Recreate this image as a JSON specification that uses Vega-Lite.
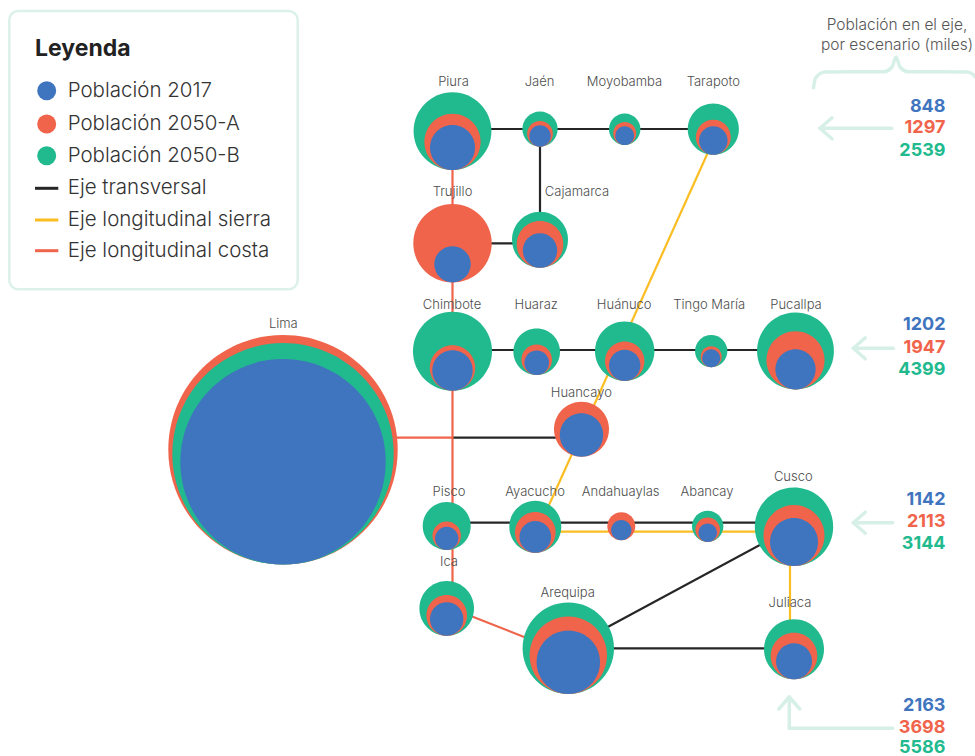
{
  "$schema": "https://vega.github.io/schema/vega-lite/v6.json",
  "width": 975,
  "height": 756,
  "padding": 0,
  "autosize": {"type": "none"},
  "background": "white",
  "config": {"view": {"stroke": null}, "font": "Inter"},
  "datasets": {
    "nodos": [
      {"ciudad": "Piura", "x": 452.5, "y": 170, "lx": 453.5, "ly": 81.7, "Población 2017": 471, "Población 2050-A": 735, "Población 2050-B": 1410},
      {"ciudad": "Jaén", "x": 540, "y": 146.7, "lx": 539.5, "ly": 81.7, "Población 2017": 106, "Población 2050-A": 155, "Población 2050-B": 290},
      {"ciudad": "Moyobamba", "x": 624.7, "y": 145, "lx": 624.5, "ly": 81.7, "Población 2017": 81, "Población 2050-A": 123, "Población 2050-B": 230},
      {"ciudad": "Tarapoto", "x": 713.3, "y": 154.7, "lx": 713.3, "ly": 81.7, "Población 2017": 190, "Población 2050-A": 284, "Población 2050-B": 609},
      {"ciudad": "Trujillo", "x": 452.5, "y": 282.5, "lx": 452.5, "ly": 191.7, "Población 2017": 308, "Población 2050-A": 1431, "Población 2050-B": null},
      {"ciudad": "Cajamarca", "x": 540, "y": 267.7, "lx": 577, "ly": 191.7, "Población 2017": 275, "Población 2050-A": 505, "Población 2050-B": 730},
      {"ciudad": "Chimbote", "x": 452.5, "y": 390.7, "lx": 452, "ly": 304.7, "Población 2017": 380, "Población 2050-A": 480, "Población 2050-B": 1455},
      {"ciudad": "Huaraz", "x": 536.7, "y": 375, "lx": 536.2, "ly": 304.7, "Población 2017": 141, "Población 2050-A": 218, "Población 2050-B": 506},
      {"ciudad": "Huánuco", "x": 624.7, "y": 381, "lx": 624.2, "ly": 304.7, "Población 2017": 229, "Población 2050-A": 361, "Población 2050-B": 821},
      {"ciudad": "Tingo María", "x": 711.2, "y": 367.3, "lx": 709.2, "ly": 304.7, "Población 2017": 75, "Población 2050-A": 102, "Población 2050-B": 244},
      {"ciudad": "Pucallpa", "x": 795.5, "y": 389.4, "lx": 796, "ly": 304.7, "Población 2017": 377, "Población 2050-A": 786, "Población 2050-B": 1373},
      {"ciudad": "Lima", "x": 283, "y": 564.5, "lx": 283.3, "ly": 324, "Población 2017": 9821, "Población 2050-A": 12250, "Población 2050-B": 11410},
      {"ciudad": "Huancayo", "x": 581.5, "y": 456.7, "lx": 581.3, "ly": 392.7, "Población 2017": 438, "Población 2050-A": 704, "Población 2050-B": null},
      {"ciudad": "Pisco", "x": 446.7, "y": 550, "lx": 449, "ly": 491.7, "Población 2017": 127, "Población 2050-A": 188, "Población 2050-B": 536},
      {"ciudad": "Ayacucho", "x": 535.3, "y": 552.7, "lx": 535, "ly": 491.7, "Población 2017": 233, "Población 2050-A": 384, "Población 2050-B": 629},
      {"ciudad": "Andahuaylas", "x": 621.3, "y": 540.3, "lx": 620.7, "ly": 491.7, "Población 2017": 97, "Población 2050-A": 182, "Población 2050-B": null},
      {"ciudad": "Abancay", "x": 707.7, "y": 542, "lx": 707, "ly": 491.7, "Población 2017": 80, "Población 2050-A": 141, "Población 2050-B": 229},
      {"ciudad": "Cusco", "x": 794, "y": 566, "lx": 793.3, "ly": 477.3, "Población 2017": 536, "Población 2050-A": 866, "Población 2050-B": 1431},
      {"ciudad": "Ica", "x": 446.7, "y": 635.7, "lx": 449, "ly": 561.7, "Población 2017": 260, "Población 2050-A": 384, "Población 2050-B": 694},
      {"ciudad": "Arequipa", "x": 568.3, "y": 694, "lx": 567.7, "ly": 592.7, "Población 2017": 936, "Población 2050-A": 1394, "Población 2050-B": 1944},
      {"ciudad": "Juliaca", "x": 794, "y": 679.3, "lx": 790, "ly": 603.3, "Población 2017": 302, "Población 2050-A": 505, "Población 2050-B": 838}
    ],
    "ejes": [
      {"tipo": "Eje transversal", "x": 452.5, "y": 129, "x2": 713.3, "y2": 129},
      {"tipo": "Eje transversal", "x": 452.5, "y": 243.3, "x2": 540, "y2": 243.3},
      {"tipo": "Eje transversal", "x": 540, "y": 129, "x2": 540, "y2": 240},
      {"tipo": "Eje transversal", "x": 452.5, "y": 350, "x2": 795.5, "y2": 350},
      {"tipo": "Eje transversal", "x": 452.5, "y": 437.7, "x2": 581.5, "y2": 437.7},
      {"tipo": "Eje transversal", "x": 446.7, "y": 522.7, "x2": 794, "y2": 522.7},
      {"tipo": "Eje transversal", "x": 568.3, "y": 648.3, "x2": 794, "y2": 526.7},
      {"tipo": "Eje transversal", "x": 568.3, "y": 648.3, "x2": 794, "y2": 648.3},
      {"tipo": "Eje longitudinal costa", "x": 452.5, "y": 129, "x2": 452.5, "y2": 608.3},
      {"tipo": "Eje longitudinal costa", "x": 283, "y": 437.7, "x2": 452.5, "y2": 437.7},
      {"tipo": "Eje longitudinal costa", "x": 446.7, "y": 606.4, "x2": 568.3, "y2": 654.5},
      {"tipo": "Eje longitudinal sierra", "x": 718.5, "y": 129, "x2": 537, "y2": 531.7},
      {"tipo": "Eje longitudinal sierra", "x": 535.3, "y": 531.7, "x2": 794, "y2": 531.7},
      {"tipo": "Eje longitudinal sierra", "x": 790, "y": 526.7, "x2": 790, "y2": 649}
    ],
    "leyenda": [
      {"serie": "Población 2017", "x": 46.7, "y": 90.7, "tx": 67.7, "forma": "punto"},
      {"serie": "Población 2050-A", "x": 46.7, "y": 124, "tx": 67.7, "forma": "punto"},
      {"serie": "Población 2050-B", "x": 46.7, "y": 155.7, "tx": 67.7, "forma": "punto"},
      {"serie": "Eje transversal", "x": 35, "x2": 58.3, "y": 188.3, "tx": 67.7, "forma": "linea"},
      {"serie": "Eje longitudinal sierra", "x": 35, "x2": 58.3, "y": 220, "tx": 67.7, "forma": "linea"},
      {"serie": "Eje longitudinal costa", "x": 35, "x2": 58.3, "y": 250.7, "tx": 67.7, "forma": "linea"}
    ],
    "totales": [
      {"t": "848", "serie": "Población 2017", "x": 945.5, "y": 106.7},
      {"t": "1297", "serie": "Población 2050-A", "x": 945.5, "y": 128.3},
      {"t": "2539", "serie": "Población 2050-B", "x": 945.5, "y": 150.7},
      {"t": "1202", "serie": "Población 2017", "x": 945.5, "y": 325},
      {"t": "1947", "serie": "Población 2050-A", "x": 945.5, "y": 348.3},
      {"t": "4399", "serie": "Población 2050-B", "x": 945.5, "y": 370},
      {"t": "1142", "serie": "Población 2017", "x": 945.5, "y": 500},
      {"t": "2113", "serie": "Población 2050-A", "x": 945.5, "y": 522.3},
      {"t": "3144", "serie": "Población 2050-B", "x": 945.5, "y": 544.3},
      {"t": "2163", "serie": "Población 2017", "x": 945.5, "y": 705.5},
      {"t": "3698", "serie": "Población 2050-A", "x": 945.5, "y": 727.5},
      {"t": "5586", "serie": "Población 2050-B", "x": 945.5, "y": 747.5}
    ],
    "flechas": [
      {"x": 820, "y": 128.3, "x2": 891.7, "y2": 128.3},
      {"x": 820, "y": 128.3, "x2": 832, "y2": 117.8},
      {"x": 820, "y": 128.3, "x2": 832, "y2": 138.8},
      {"x": 853.3, "y": 348.3, "x2": 893.3, "y2": 348.3},
      {"x": 853.3, "y": 348.3, "x2": 865.3, "y2": 337.8},
      {"x": 853.3, "y": 348.3, "x2": 865.3, "y2": 358.8},
      {"x": 853.3, "y": 522.7, "x2": 892.7, "y2": 522.7},
      {"x": 853.3, "y": 522.7, "x2": 865.3, "y2": 512.2},
      {"x": 853.3, "y": 522.7, "x2": 865.3, "y2": 533.2},
      {"x": 789.3, "y": 697, "x2": 789.3, "y2": 728.3},
      {"x": 789.3, "y": 728.3, "x2": 892.7, "y2": 728.3},
      {"x": 789.3, "y": 697, "x2": 778.8, "y2": 709},
      {"x": 789.3, "y": 697, "x2": 799.8, "y2": 709}
    ],
    "llave": [
      {"x": 813.3, "y": 89.3},
      {"x": 815.5, "y": 78},
      {"x": 825, "y": 72},
      {"x": 884, "y": 71.7},
      {"x": 892, "y": 67},
      {"x": 896, "y": 57},
      {"x": 900, "y": 67},
      {"x": 908, "y": 71.7},
      {"x": 967, "y": 72},
      {"x": 976.5, "y": 78},
      {"x": 978.7, "y": 89.3}
    ],
    "titulos": [
      {"t": "Población en el eje,", "x": 897, "y": 25},
      {"t": "por escenario (miles)", "x": 897, "y": 45}
    ]
  },
  "layer": [
    {
      "data": {"values": [{"x": 9.3, "x2": 297.7, "y": 11, "y2": 289.3}]},
      "mark": {"type": "rect", "cornerRadius": 9, "fill": "white", "stroke": "#dcf1ea", "strokeWidth": 2.5},
      "encoding": {
        "x": {"field": "x", "type": "quantitative", "scale": {"domain": [0, 975], "nice": false, "zero": false}, "axis": null},
        "x2": {"field": "x2"},
        "y": {"field": "y", "type": "quantitative", "scale": {"domain": [0, 756], "nice": false, "zero": false, "reverse": true}, "axis": null},
        "y2": {"field": "y2"}
      }
    },
    {
      "data": {"name": "ejes"},
      "mark": {"type": "rule", "strokeWidth": 2.2},
      "encoding": {
        "x": {"field": "x", "type": "quantitative", "scale": {"domain": [0, 975], "nice": false, "zero": false}, "axis": null},
        "x2": {"field": "x2"},
        "y": {"field": "y", "type": "quantitative", "scale": {"domain": [0, 756], "nice": false, "zero": false, "reverse": true}, "axis": null},
        "y2": {"field": "y2"},
        "color": {"field": "tipo", "type": "nominal", "legend": null,
          "scale": {"domain": ["Población 2017", "Población 2050-A", "Población 2050-B", "Eje transversal", "Eje longitudinal sierra", "Eje longitudinal costa"],
                    "range": ["#3f75be", "#f0644b", "#21b98e", "#262626", "#fbbd22", "#f0644b"]}}
      }
    },
    {
      "data": {"name": "nodos"},
      "transform": [
        {"fold": ["Población 2017", "Población 2050-A", "Población 2050-B"], "as": ["serie", "pop"]},
        {"filter": "datum.pop != null"}
      ],
      "mark": {"type": "point", "shape": "M0,0 C0.5523,0 1,-0.4477 1,-1 C1,-1.5523 0.5523,-2 0,-2 C-0.5523,-2 -1,-1.5523 -1,-1 C-1,-0.4477 -0.5523,0 0,0 Z", "filled": true, "opacity": 1, "strokeWidth": 0},
      "encoding": {
        "x": {"field": "x", "type": "quantitative", "scale": {"domain": [0, 975], "nice": false, "zero": false}, "axis": null},
        "y": {"field": "y", "type": "quantitative", "scale": {"domain": [0, 756], "nice": false, "zero": false, "reverse": true}, "axis": null},
        "size": {"field": "pop", "type": "quantitative", "legend": null, "scale": {"type": "linear", "domain": [0, 10000], "range": [0, 42960], "zero": true}},
        "color": {"field": "serie", "type": "nominal", "legend": null,
          "scale": {"domain": ["Población 2017", "Población 2050-A", "Población 2050-B", "Eje transversal", "Eje longitudinal sierra", "Eje longitudinal costa"],
                    "range": ["#3f75be", "#f0644b", "#21b98e", "#262626", "#fbbd22", "#f0644b"]}},
        "order": {"field": "pop", "type": "quantitative", "sort": "descending"}
      }
    },
    {
      "data": {"name": "nodos"},
      "mark": {"type": "text", "fontSize": 13, "fontWeight": 300, "color": "#4d4d4d", "baseline": "middle", "align": "center"},
      "encoding": {
        "x": {"field": "lx", "type": "quantitative", "scale": {"domain": [0, 975], "nice": false, "zero": false}, "axis": null},
        "y": {"field": "ly", "type": "quantitative", "scale": {"domain": [0, 756], "nice": false, "zero": false, "reverse": true}, "axis": null},
        "text": {"field": "ciudad"}
      }
    },
    {
      "data": {"values": [{"t": "Leyenda", "x": 35, "y": 49.3}]},
      "mark": {"type": "text", "fontSize": 23, "fontWeight": "bold", "color": "#222222", "align": "left", "baseline": "middle"},
      "encoding": {
        "x": {"field": "x", "type": "quantitative", "scale": {"domain": [0, 975], "nice": false, "zero": false}, "axis": null},
        "y": {"field": "y", "type": "quantitative", "scale": {"domain": [0, 756], "nice": false, "zero": false, "reverse": true}, "axis": null},
        "text": {"field": "t"}
      }
    },
    {
      "data": {"name": "leyenda"},
      "transform": [{"filter": "datum.forma == 'punto'"}],
      "mark": {"type": "point", "shape": "circle", "filled": true, "opacity": 1, "size": 360, "strokeWidth": 0},
      "encoding": {
        "x": {"field": "x", "type": "quantitative", "scale": {"domain": [0, 975], "nice": false, "zero": false}, "axis": null},
        "y": {"field": "y", "type": "quantitative", "scale": {"domain": [0, 756], "nice": false, "zero": false, "reverse": true}, "axis": null},
        "color": {"field": "serie", "type": "nominal", "legend": null,
          "scale": {"domain": ["Población 2017", "Población 2050-A", "Población 2050-B", "Eje transversal", "Eje longitudinal sierra", "Eje longitudinal costa"],
                    "range": ["#3f75be", "#f0644b", "#21b98e", "#262626", "#fbbd22", "#f0644b"]}}
      }
    },
    {
      "data": {"name": "leyenda"},
      "transform": [{"filter": "datum.forma == 'linea'"}],
      "mark": {"type": "rule", "strokeWidth": 3},
      "encoding": {
        "x": {"field": "x", "type": "quantitative", "scale": {"domain": [0, 975], "nice": false, "zero": false}, "axis": null},
        "x2": {"field": "x2"},
        "y": {"field": "y", "type": "quantitative", "scale": {"domain": [0, 756], "nice": false, "zero": false, "reverse": true}, "axis": null},
        "color": {"field": "serie", "type": "nominal", "legend": null,
          "scale": {"domain": ["Población 2017", "Población 2050-A", "Población 2050-B", "Eje transversal", "Eje longitudinal sierra", "Eje longitudinal costa"],
                    "range": ["#3f75be", "#f0644b", "#21b98e", "#262626", "#fbbd22", "#f0644b"]}}
      }
    },
    {
      "data": {"name": "leyenda"},
      "mark": {"type": "text", "fontSize": 20.5, "fontWeight": 300, "color": "#333333", "align": "left", "baseline": "middle"},
      "encoding": {
        "x": {"field": "tx", "type": "quantitative", "scale": {"domain": [0, 975], "nice": false, "zero": false}, "axis": null},
        "y": {"field": "y", "type": "quantitative", "scale": {"domain": [0, 756], "nice": false, "zero": false, "reverse": true}, "axis": null},
        "text": {"field": "serie"}
      }
    },
    {
      "data": {"name": "flechas"},
      "mark": {"type": "rule", "strokeWidth": 3.5, "color": "#d7f0e7", "strokeCap": "round"},
      "encoding": {
        "x": {"field": "x", "type": "quantitative", "scale": {"domain": [0, 975], "nice": false, "zero": false}, "axis": null},
        "x2": {"field": "x2"},
        "y": {"field": "y", "type": "quantitative", "scale": {"domain": [0, 756], "nice": false, "zero": false, "reverse": true}, "axis": null},
        "y2": {"field": "y2"}
      }
    },
    {
      "data": {"name": "llave"},
      "mark": {"type": "line", "interpolate": "monotone", "strokeWidth": 3.5, "color": "#d7f0e7"},
      "encoding": {
        "x": {"field": "x", "type": "quantitative", "scale": {"domain": [0, 975], "nice": false, "zero": false}, "axis": null},
        "y": {"field": "y", "type": "quantitative", "scale": {"domain": [0, 756], "nice": false, "zero": false, "reverse": true}, "axis": null}
      }
    },
    {
      "data": {"name": "totales"},
      "mark": {"type": "text", "fontSize": 18, "fontWeight": "bold", "align": "right", "baseline": "middle"},
      "encoding": {
        "x": {"field": "x", "type": "quantitative", "scale": {"domain": [0, 975], "nice": false, "zero": false}, "axis": null},
        "y": {"field": "y", "type": "quantitative", "scale": {"domain": [0, 756], "nice": false, "zero": false, "reverse": true}, "axis": null},
        "text": {"field": "t"},
        "color": {"field": "serie", "type": "nominal", "legend": null,
          "scale": {"domain": ["Población 2017", "Población 2050-A", "Población 2050-B", "Eje transversal", "Eje longitudinal sierra", "Eje longitudinal costa"],
                    "range": ["#3f75be", "#f0644b", "#21b98e", "#262626", "#fbbd22", "#f0644b"]}}
      }
    },
    {
      "data": {"name": "titulos"},
      "mark": {"type": "text", "fontSize": 15.5, "fontWeight": 300, "color": "#555555", "align": "center", "baseline": "middle"},
      "encoding": {
        "x": {"field": "x", "type": "quantitative", "scale": {"domain": [0, 975], "nice": false, "zero": false}, "axis": null},
        "y": {"field": "y", "type": "quantitative", "scale": {"domain": [0, 756], "nice": false, "zero": false, "reverse": true}, "axis": null},
        "text": {"field": "t"}
      }
    }
  ]
}
